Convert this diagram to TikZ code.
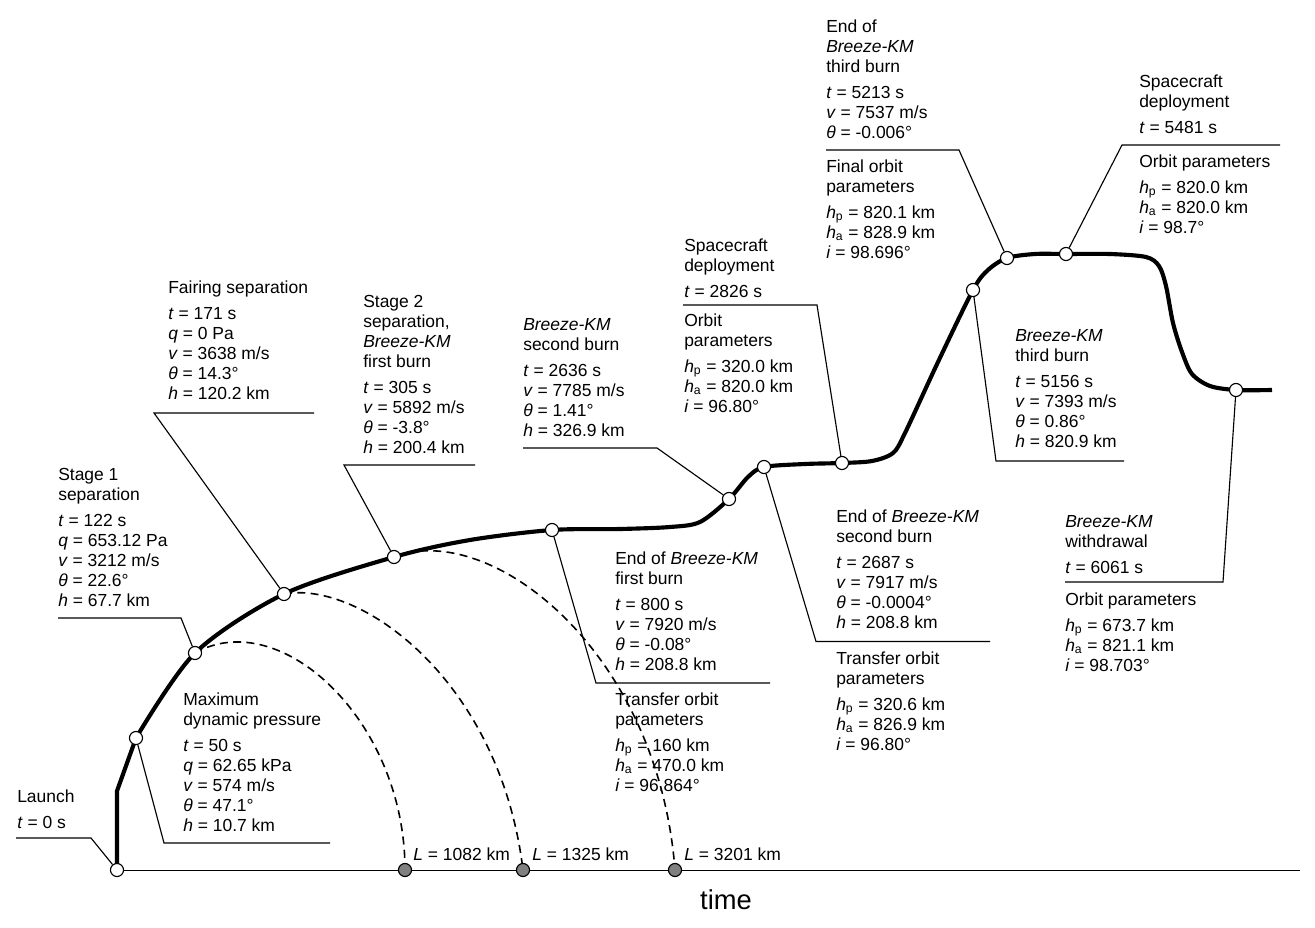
\documentclass[tikz,border=0pt]{standalone}
\usepackage{fontspec}
\setmainfont{Liberation Sans}
\pgfdeclarelayer{bg}
\pgfsetlayers{bg,main}
\newcommand\fsz{\fontsize{13.1}{15}\selectfont}
\newcommand\blk[1]{\begin{tabular}[t]{@{}l@{}}#1\end{tabular}}
\newcommand\gp{\\[4.5pt]}
\newcommand\BK{\textit{Breeze-KM}}
\newcommand\vi[1]{\textit{#1}}
\newcommand\hp{\textit{h}\textsubscript{p}}
\newcommand\ha{\textit{h}\textsubscript{a}}
\definecolor{grayfill}{RGB}{128,128,128}
\tikzset{
  pt/.style={circle, draw, fill=white, inner sep=0pt, minimum size=9.8pt, line width=0.85pt},
  gpt/.style={circle, draw, fill=grayfill, inner sep=0pt, minimum size=9.8pt, line width=0.85pt},
  txt/.style={anchor=base west, inner sep=0pt, font=\fsz},
  trj/.style={line width=3.1pt, line join=round},
  ld/.style={line width=0.85pt},
  ax/.style={line width=0.75pt},
  dsh/.style={line width=1.2pt, dash pattern=on 6pt off 4pt},
}
\begin{document}
\begin{tikzpicture}[x=0.75pt,y=-0.75pt]
\useasboundingbox (0,0) rectangle (1315,928);

% event points
\node[pt] (cL)  at (117,870) {};
\node[pt] (cQ)  at (136,738) {};
\node[pt] (cS1) at (195,653) {};
\node[pt] (cF)  at (284,594) {};
\node[pt] (cS2) at (394,557) {};
\node[pt] (cE1) at (552,530) {};
\node[pt] (cB2) at (729,499) {};
\node[pt] (cE2) at (764,467) {};
\node[pt] (cD1) at (842,463) {};
\node[pt] (cB3) at (973,290) {};
\node[pt] (cE3) at (1007,258) {};
\node[pt] (cD2) at (1066,254) {};
\node[pt] (cW)  at (1236,390) {};
\node[gpt] (g1) at (405,870) {};
\node[gpt] (g2) at (523,870) {};
\node[gpt] (g3) at (675,870) {};

\begin{pgfonlayer}{bg}
% axis
\draw[ax] (cL.center) -- (1300,870);
% trajectory
\draw[trj] (cL.center) -- (117,791) -- (cQ.center);
\draw[trj] plot[smooth, tension=0.5] coordinates {(cQ.center) (cS1.center) (cF.center) (cS2.center) (470,540) (cE1.center) (620,529) (670,527) (700,522) (cB2.center) (748,477) (cE2.center) (805,464) (cD1.center) (872,461) (893,453) (905,433) (938,362) (cB3.center) (988,270) (cE3.center) (1035,254) (cD2.center) (1110,254) (1146,257) (1159,266) (1166,286) (1173,323) (1182,352) (1192,374) (1210,386) (cW.center) (1272,390)};
% ballistic falls
\draw[dsh] (cS1.center) .. controls (280,605) and (405,720) .. (g1.center);
\draw[dsh] (cF.center) .. controls (360,580) and (500,680) .. (g2.center);
\draw[dsh] (cS2.center) .. controls (490,520) and (658,650) .. (g3.center);
% leaders
\draw[ld] (16,838) -- (91,838) -- (cL);
\draw[ld] (58,618) -- (181,618) -- (cS1);
\draw[ld] (cQ) -- (164,843) -- (330,843);
\draw[ld] (314,413) -- (154,413) -- (cF);
\draw[ld] (475,465) -- (344,465) -- (cS2);
\draw[ld] (523,448) -- (657,448) -- (cB2);
\draw[ld] (cE1) -- (596,683) -- (770,683);
\draw[ld] (cE2) -- (816,641.5) -- (990,641.5);
\draw[ld] (683,305) -- (817,305) -- (cD1);
\draw[ld] (cB3) -- (996,461) -- (1124,461);
\draw[ld] (826,150) -- (959,150) -- (cE3);
\draw[ld] (cD2) -- (1122,145) -- (1280,145);
\draw[ld] (1065,582) -- (1223,582) -- (cW);
\end{pgfonlayer}

% texts
\node[txt] (tL) at (17,802) {\blk{Launch\gp \vi{t} = 0 s}};
\node[txt] (tS1) at (58,480) {\blk{Stage 1\\ separation\gp \vi{t} = 122 s\\ \vi{q} = 653.12 Pa\\ \vi{v} = 3212 m/s\\ \vi{θ} = 22.6°\\ \vi{h} = 67.7 km}};
\node[txt] (tQ) at (183,705) {\blk{Maximum\\ dynamic pressure\gp \vi{t} = 50 s\\ \vi{q} = 62.65 kPa\\ \vi{v} = 574 m/s\\ \vi{θ} = 47.1°\\ \vi{h} = 10.7 km}};
\node[txt] (tF) at (168,293) {\blk{Fairing separation\gp \vi{t} = 171 s\\ \vi{q} = 0 Pa\\ \vi{v} = 3638 m/s\\ \vi{θ} = 14.3°\\ \vi{h} = 120.2 km}};
\node[txt] (tS2) at (363,307) {\blk{Stage 2\\ separation,\\ \BK\\ first burn\gp \vi{t} = 305 s\\ \vi{v} = 5892 m/s\\ \vi{θ} = -3.8°\\ \vi{h} = 200.4 km}};
\node[txt] (tB2) at (523,330) {\blk{\BK\\ second burn\gp \vi{t} = 2636 s\\ \vi{v} = 7785 m/s\\ \vi{θ} = 1.41°\\ \vi{h} = 326.9 km}};
\node[txt] (tD1a) at (684,251) {\blk{Spacecraft\\ deployment\gp \vi{t} = 2826 s}};
\node[txt] (tD1b) at (684,326.5) {\blk{Orbit\\ parameters\gp \hp{} = 320.0 km\\ \ha{} = 820.0 km\\ \vi{i} = 96.80°}};
\node[txt] (tE1a) at (615,564) {\blk{End of \BK\\ first burn\gp \vi{t} = 800 s\\ \vi{v} = 7920 m/s\\ \vi{θ} = -0.08°\\ \vi{h} = 208.8 km}};
\node[txt] (tE1b) at (615,705) {\blk{Transfer orbit\\ parameters\gp \hp{} = 160 km\\ \ha{} = 470.0 km\\ \vi{i} = 96.864°}};
\node[txt] (tE2a) at (836,522.5) {\blk{End of \BK\\ second burn\gp \vi{t} = 2687 s\\ \vi{v} = 7917 m/s\\ \vi{θ} = -0.0004°\\ \vi{h} = 208.8 km}};
\node[txt] (tE2b) at (836,664) {\blk{Transfer orbit\\ parameters\gp \hp{} = 320.6 km\\ \ha{} = 826.9 km\\ \vi{i} = 96.80°}};
\node[txt] (tB3) at (1015,341) {\blk{\BK\\ third burn\gp \vi{t} = 5156 s\\ \vi{v} = 7393 m/s\\ \vi{θ} = 0.86°\\ \vi{h} = 820.9 km}};
\node[txt] (tE3a) at (826,32) {\blk{End of\\ \BK\\ third burn\gp \vi{t} = 5213 s\\ \vi{v} = 7537 m/s\\ \vi{θ} = -0.006°}};
\node[txt] (tE3b) at (826,172) {\blk{Final orbit\\ parameters\gp \hp{} = 820.1 km\\ \ha{} = 828.9 km\\ \vi{i} = 98.696°}};
\node[txt] (tD2a) at (1139,87) {\blk{Spacecraft\\ deployment\gp \vi{t} = 5481 s}};
\node[txt] (tD2b) at (1139,167) {\blk{Orbit parameters\gp \hp{} = 820.0 km\\ \ha{} = 820.0 km\\ \vi{i} = 98.7°}};
\node[txt] (tWa) at (1065,527) {\blk{\BK\\ withdrawal\gp \vi{t} = 6061 s}};
\node[txt] (tWb) at (1065,605) {\blk{Orbit parameters\gp \hp{} = 673.7 km\\ \ha{} = 821.1 km\\ \vi{i} = 98.703°}};
\node[txt] (l1) at (413,860) {\vi{L} = 1082 km};
\node[txt] (l2) at (532,860) {\vi{L} = 1325 km};
\node[txt] (l3) at (684,860) {\vi{L} = 3201 km};
\node[anchor=base, inner sep=0pt, font=\fontsize{20.5}{24}\selectfont] (tm) at (726,909) {time};
\end{tikzpicture}
\end{document}
